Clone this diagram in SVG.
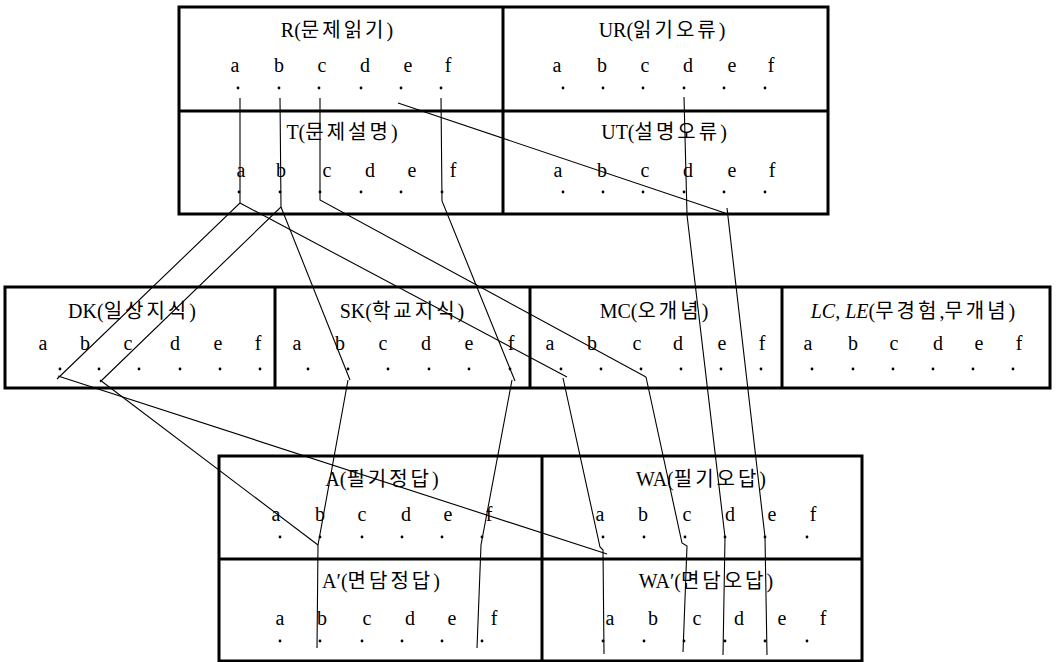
<svg xmlns="http://www.w3.org/2000/svg" xmlns:xlink="http://www.w3.org/1999/xlink" width="1057" height="662" viewBox="0 0 1057 662">
<style>
.frame{fill:none;stroke:#000;stroke-width:3}
.div{stroke:#000;stroke-width:3}
.ln{fill:none;stroke:#000;stroke-width:1.1}
.tt{font-family:"Liberation Serif","Noto Sans CJK KR",serif;font-size:20px;fill:#000;text-anchor:middle}
.k{font-family:"Noto Sans CJK KR",sans-serif;font-size:20px;letter-spacing:3px}
.lt{font-family:"Liberation Serif",serif;font-size:20px;fill:#000;text-anchor:middle}
.d{fill:#000}
</style>
<defs>
<circle id="dot" r="1.4" class="d"/>
</defs>
<rect width="1057" height="662" fill="#fff"/>

<g id="frames">
<rect class="frame" x="179" y="7" width="649" height="207"/>
<line class="div" x1="503" y1="7" x2="503" y2="214"/>
<line class="div" x1="179" y1="111" x2="828" y2="111"/>
<rect class="frame" x="5" y="287" width="1045" height="101"/>
<line class="div" x1="275" y1="287" x2="275" y2="388"/>
<line class="div" x1="530" y1="287" x2="530" y2="388"/>
<line class="div" x1="782" y1="287" x2="782" y2="388"/>
<rect class="frame" x="219" y="456" width="643" height="205"/>
<line class="div" x1="542" y1="456" x2="542" y2="661"/>
<line class="div" x1="219" y1="559" x2="862" y2="559"/>
</g>

<g id="R">
<text class="tt" x="337" y="37">R(<tspan class="k">문제읽기</tspan>)</text>
<text class="lt" y="72"><tspan x="235">a</tspan><tspan x="279">b</tspan><tspan x="322">c</tspan><tspan x="365">d</tspan><tspan x="408">e</tspan><tspan x="448">f</tspan></text>
<use xlink:href="#dot" x="238" y="88"/><use xlink:href="#dot" x="279" y="88"/><use xlink:href="#dot" x="319" y="88"/><use xlink:href="#dot" x="361" y="88"/><use xlink:href="#dot" x="401" y="88"/><use xlink:href="#dot" x="441" y="88"/>
</g>
<g id="UR">
<text class="tt" x="662" y="37">UR(<tspan class="k">읽기오류</tspan>)</text>
<text class="lt" y="72"><tspan x="557">a</tspan><tspan x="602">b</tspan><tspan x="645">c</tspan><tspan x="688">d</tspan><tspan x="732">e</tspan><tspan x="771">f</tspan></text>
<use xlink:href="#dot" x="563" y="88"/><use xlink:href="#dot" x="603" y="88"/><use xlink:href="#dot" x="643" y="88"/><use xlink:href="#dot" x="684" y="88"/><use xlink:href="#dot" x="724" y="88"/><use xlink:href="#dot" x="765" y="88"/>
</g>
<g id="T">
<text class="tt" x="342" y="139">T(<tspan class="k">문제설명</tspan>)</text>
<text class="lt" y="177"><tspan x="241">a</tspan><tspan x="281">b</tspan><tspan x="327">c</tspan><tspan x="370">d</tspan><tspan x="412">e</tspan><tspan x="453">f</tspan></text>
<use xlink:href="#dot" x="239" y="192"/><use xlink:href="#dot" x="280" y="192"/><use xlink:href="#dot" x="320" y="192"/><use xlink:href="#dot" x="361" y="192"/><use xlink:href="#dot" x="401" y="192"/><use xlink:href="#dot" x="442" y="192"/>
</g>
<g id="UT">
<text class="tt" x="664" y="139">UT(<tspan class="k">설명오류</tspan>)</text>
<text class="lt" y="177"><tspan x="558">a</tspan><tspan x="602">b</tspan><tspan x="645">c</tspan><tspan x="688">d</tspan><tspan x="732">e</tspan><tspan x="772">f</tspan></text>
<use xlink:href="#dot" x="563" y="192"/><use xlink:href="#dot" x="603" y="192"/><use xlink:href="#dot" x="643" y="192"/><use xlink:href="#dot" x="684" y="192"/><use xlink:href="#dot" x="724" y="192"/><use xlink:href="#dot" x="765" y="192"/>
</g>

<g id="DK">
<text class="tt" x="132" y="318">DK(<tspan class="k">일상지식</tspan>)</text>
<text class="lt" y="350"><tspan x="43">a</tspan><tspan x="85">b</tspan><tspan x="128">c</tspan><tspan x="175">d</tspan><tspan x="218">e</tspan><tspan x="258">f</tspan></text>
<use xlink:href="#dot" x="60" y="369"/><use xlink:href="#dot" x="99" y="369"/><use xlink:href="#dot" x="139" y="369"/><use xlink:href="#dot" x="180" y="369"/><use xlink:href="#dot" x="220" y="369"/><use xlink:href="#dot" x="260" y="369"/>
</g>
<g id="SK">
<text class="tt" x="402" y="318">SK(<tspan class="k">학교지식</tspan>)</text>
<text class="lt" y="350"><tspan x="297">a</tspan><tspan x="340">b</tspan><tspan x="383">c</tspan><tspan x="426">d</tspan><tspan x="469">e</tspan><tspan x="511">f</tspan></text>
<use xlink:href="#dot" x="308" y="369"/><use xlink:href="#dot" x="348" y="369"/><use xlink:href="#dot" x="388" y="369"/><use xlink:href="#dot" x="429" y="369"/><use xlink:href="#dot" x="469" y="369"/><use xlink:href="#dot" x="510" y="369"/>
</g>
<g id="MC">
<text class="tt" x="654" y="318">MC(<tspan class="k">오개념</tspan>)</text>
<text class="lt" y="350"><tspan x="550">a</tspan><tspan x="592">b</tspan><tspan x="637">c</tspan><tspan x="678">d</tspan><tspan x="722">e</tspan><tspan x="762">f</tspan></text>
<use xlink:href="#dot" x="561" y="369"/><use xlink:href="#dot" x="601" y="369"/><use xlink:href="#dot" x="641" y="369"/><use xlink:href="#dot" x="681" y="369"/><use xlink:href="#dot" x="721" y="369"/><use xlink:href="#dot" x="761" y="369"/>
</g>
<g id="LC">
<text class="tt" x="913" y="318"><tspan font-style="italic">LC, LE</tspan>(<tspan class="k">무경험</tspan>,<tspan class="k">무개념</tspan>)</text>
<text class="lt" y="350"><tspan x="808">a</tspan><tspan x="853">b</tspan><tspan x="894">c</tspan><tspan x="938">d</tspan><tspan x="979">e</tspan><tspan x="1019">f</tspan></text>
<use xlink:href="#dot" x="812" y="369"/><use xlink:href="#dot" x="853" y="369"/><use xlink:href="#dot" x="893" y="369"/><use xlink:href="#dot" x="933" y="369"/><use xlink:href="#dot" x="973" y="369"/><use xlink:href="#dot" x="1013" y="369"/>
</g>

<g id="A">
<text class="tt" x="382" y="486">A(<tspan class="k">필기정답</tspan>)</text>
<text class="lt" y="521"><tspan x="276">a</tspan><tspan x="320">b</tspan><tspan x="362">c</tspan><tspan x="406">d</tspan><tspan x="448">e</tspan><tspan x="489">f</tspan></text>
<use xlink:href="#dot" x="280" y="537"/><use xlink:href="#dot" x="320" y="537"/><use xlink:href="#dot" x="362" y="537"/><use xlink:href="#dot" x="402" y="537"/><use xlink:href="#dot" x="442" y="537"/><use xlink:href="#dot" x="482" y="537"/>
</g>
<g id="WA">
<text class="tt" x="701" y="486">WA(<tspan class="k">필기오답</tspan>)</text>
<text class="lt" y="521"><tspan x="600">a</tspan><tspan x="643">b</tspan><tspan x="687">c</tspan><tspan x="730">d</tspan><tspan x="772">e</tspan><tspan x="813">f</tspan></text>
<use xlink:href="#dot" x="603" y="537"/><use xlink:href="#dot" x="644" y="537"/><use xlink:href="#dot" x="685" y="537"/><use xlink:href="#dot" x="725" y="537"/><use xlink:href="#dot" x="765" y="537"/><use xlink:href="#dot" x="807" y="537"/>
</g>
<g id="A2">
<text class="tt" x="381" y="588">A′(<tspan class="k">면담정답</tspan>)</text>
<text class="lt" y="625"><tspan x="280">a</tspan><tspan x="322">b</tspan><tspan x="367">c</tspan><tspan x="410">d</tspan><tspan x="452">e</tspan><tspan x="494">f</tspan></text>
<use xlink:href="#dot" x="280" y="641"/><use xlink:href="#dot" x="320" y="641"/><use xlink:href="#dot" x="362" y="641"/><use xlink:href="#dot" x="402" y="641"/><use xlink:href="#dot" x="442" y="641"/><use xlink:href="#dot" x="482" y="641"/>
</g>
<g id="WA2">
<text class="tt" x="706" y="588">WA′(<tspan class="k">면담오답</tspan>)</text>
<text class="lt" y="625"><tspan x="610">a</tspan><tspan x="653">b</tspan><tspan x="697">c</tspan><tspan x="739">d</tspan><tspan x="782">e</tspan><tspan x="823">f</tspan></text>
<use xlink:href="#dot" x="603" y="641"/><use xlink:href="#dot" x="644" y="641"/><use xlink:href="#dot" x="684" y="641"/><use xlink:href="#dot" x="725" y="641"/><use xlink:href="#dot" x="765" y="641"/><use xlink:href="#dot" x="807" y="641"/>
</g>

<g id="connectors">
<polyline class="ln" points="240,98 240,203 57,379"/>
<polyline class="ln" points="240,203 567,377"/>
<polyline class="ln" points="280,98 281,207 100,382"/>
<polyline class="ln" points="281,207 350,380"/>
<polyline class="ln" points="320,98 320,200 646,377"/>
<polyline class="ln" points="441,98 442,201 515,381"/>
<polyline class="ln" points="398,103 725,213"/>
<polyline class="ln" points="684,97 687,215 725,537 723,655"/>
<polyline class="ln" points="727,208 765,537 767,655"/>
<polyline class="ln" points="58,376 607,554"/>
<polyline class="ln" points="100,380 318,545"/>
<polyline class="ln" points="348,380 318,545 317,648"/>
<polyline class="ln" points="512,380 481,545 477,648"/>
<polyline class="ln" points="563,378 600,547 603,550 604,654"/>
<polyline class="ln" points="646,377 682,543 687,546 683,652"/>
</g>
</svg>
